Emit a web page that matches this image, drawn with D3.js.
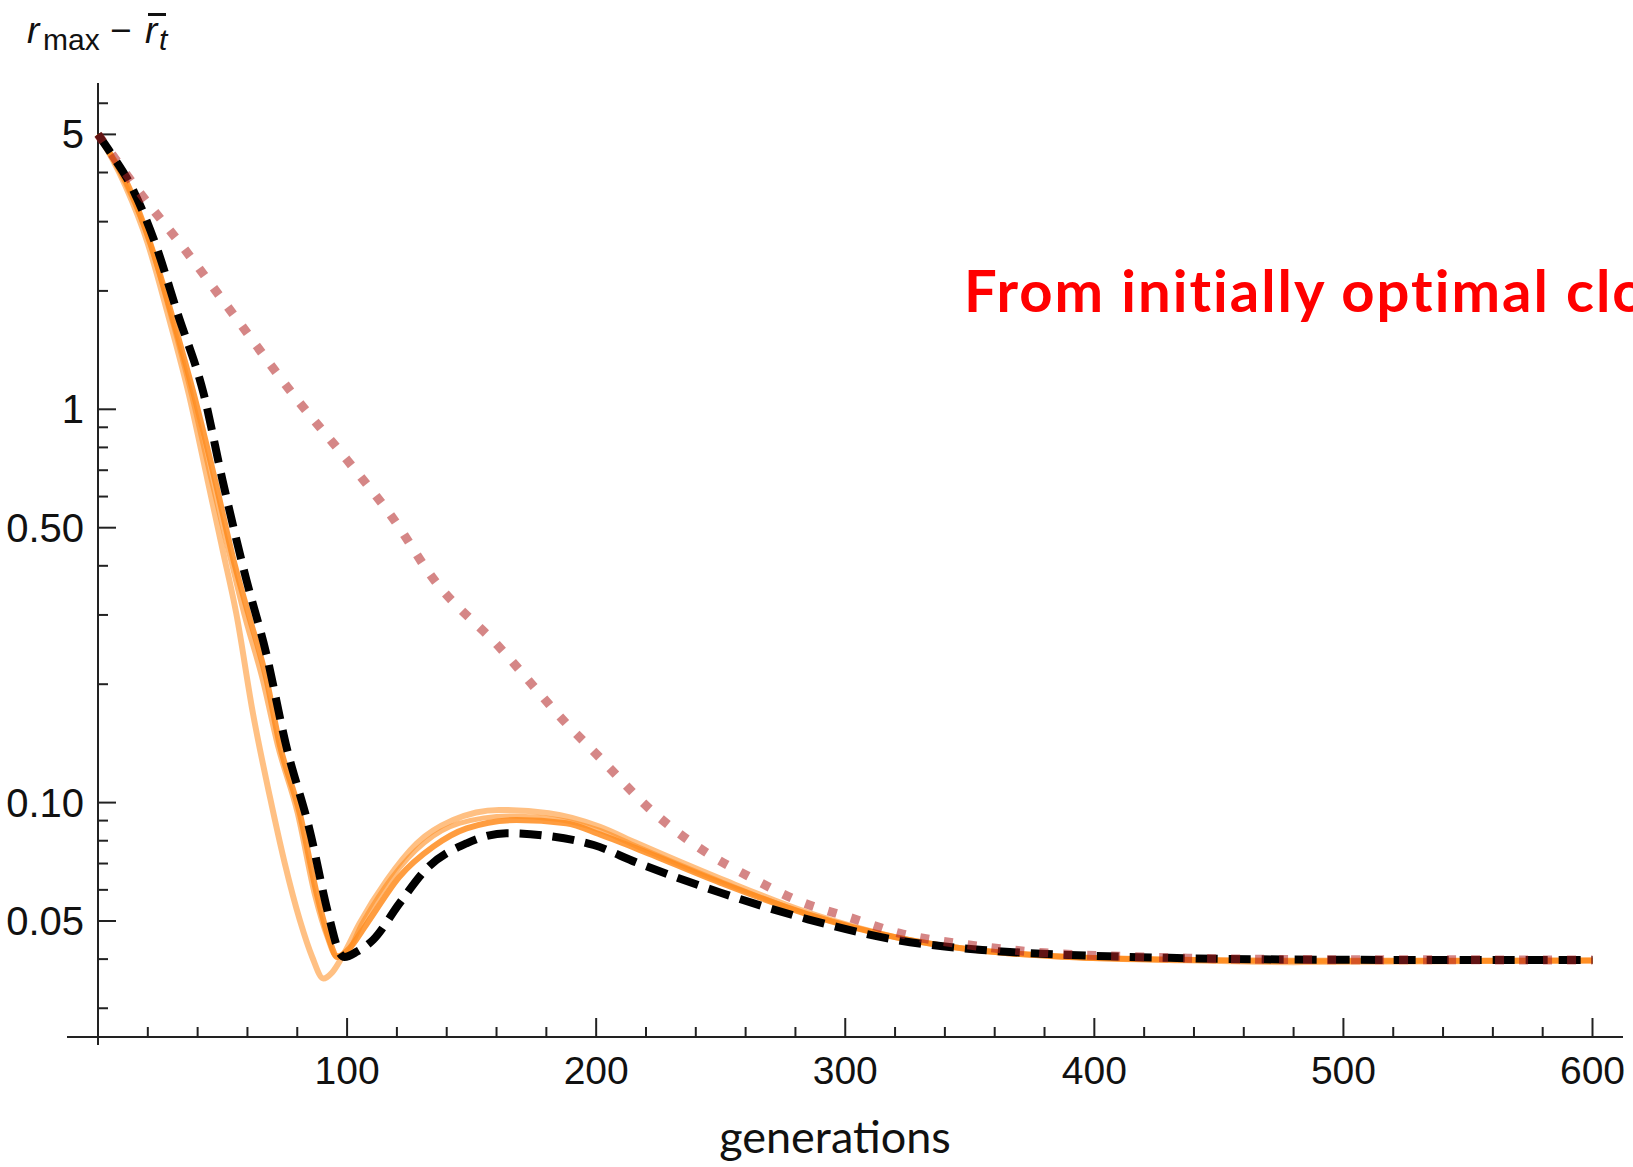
<!DOCTYPE html>
<html>
<head>
<meta charset="utf-8">
<script src="https://cdn.jsdelivr.net/npm/d3@7"></script>
<style>
  html, body { margin: 0; padding: 0; background: #fff; }
  svg { display: block; }
</style>
</head>
<body>
<svg id="chart" width="1633" height="1167"></svg>
<script>
// ---------------- DATA ----------------
// generations (x) and r_max - mean r_t (y, log scale)
const dottedSeries = [
  [0,5],[16,3.61],[34,2.59],[56,1.687],[79,1.077],[100,0.743],[118,0.533],[135,0.368],
  [161,0.249],[188,0.159],[201,0.131],[221,0.097],[241,0.077],[262,0.0645],[282,0.056],
  [302,0.051],[322,0.0465],[349,0.0435],[380,0.0415],[420,0.0405],[480,0.0399],[600,0.0398]
];
const blackDashedSeries = [
  [0,5],[6,4.4],[12,3.83],[23,2.64],[32,1.75],[42.5,1.09],[50,0.66],[59.5,0.37],[67.5,0.24],
  [75.5,0.14],[85,0.085],[92.5,0.052],[97,0.0415],[99,0.0405],[104,0.0418],[110.5,0.0448],
  [121,0.0554],[132,0.068],[148,0.0788],[164,0.0836],[181,0.0822],[199,0.078],[216,0.0705],
  [250,0.059],[285,0.0505],[320,0.0448],[355,0.0422],[390,0.041],[430,0.0403],[480,0.0399],
  [540,0.0398],[600,0.0398]
];
const orangeLightSeries = [
  [0,5],[6,4.3],[11,3.7],[20,2.64],[28,1.75],[36.5,1.09],[44,0.66],[50,0.44],[55.5,0.303],
  [62.2,0.1687],[69,0.1035],[75,0.070],[81,0.0503],[86,0.0405],[90.5,0.0357],[94,0.037],
  [98,0.0405],[105,0.0493],[116,0.0636],[128,0.0788],[142.6,0.0903],[161,0.0958],[181,0.094],
  [201.5,0.0868],[216,0.079],[250,0.064],[285,0.0525],[320,0.0455],[355,0.042],[390,0.0405],
  [430,0.0398],[480,0.0393],[540,0.0395],[600,0.0397]
];
const orangeMidSeries = [
  [0,5],[6,4.33],[11,3.76],[21,2.64],[29,1.75],[37.5,1.09],[45.5,0.66],[53,0.42],[58.5,0.303],
  [66,0.205],[72,0.14],[80,0.094],[87,0.058],[92,0.0455],[95.5,0.0408],[99,0.041],[106,0.0493],
  [118,0.0645],[131,0.079],[145,0.0885],[165,0.0925],[185,0.0905],[201.5,0.085],[216,0.0775],
  [250,0.063],[285,0.052],[320,0.0455],[355,0.042],[390,0.0405],[430,0.0399],[480,0.0395],
  [540,0.0396],[600,0.0397]
];
const orangeDarkSeries = [
  [0,5],[6,4.35],[11,3.83],[21,2.64],[29.5,1.75],[38.5,1.09],[47,0.66],[55,0.40],[60.3,0.303],
  [67.7,0.205],[73,0.14],[81,0.094],[88,0.058],[93,0.0445],[96,0.0405],[100,0.042],[108,0.0493],
  [121,0.0648],[134.6,0.0773],[148,0.086],[168,0.0903],[188,0.0886],[201.5,0.083],[216,0.0765],
  [250,0.0625],[285,0.052],[320,0.0455],[355,0.042],[390,0.0405],[430,0.0399],[480,0.0396],
  [540,0.0396],[600,0.0397]
];
const xMajorTicks = [100,200,300,400,500,600];
const xMinorTicks = [20,40,60,80,120,140,160,180,220,240,260,280,320,340,360,380,420,440,460,480,520,540,560,580];
const yMajorTicks = [5,1,0.5,0.1,0.05];
const yMajorLabels = ["5","1","0.50","0.10","0.05"];
const yMinorTicks = [6,4,3,2,0.9,0.8,0.7,0.6,0.4,0.3,0.2,0.09,0.08,0.07,0.06,0.04,0.03];
const xAxisTitle = "generations";
const annotation = "From initially optimal clone";

// ---------------- LAYOUT ----------------
const svg = d3.select("#chart");
svg.append("rect").attr("width",1633).attr("height",1167).attr("fill","#fff");

const x = d3.scaleLinear().domain([0,600]).range([98,1592.5]);
const y = d3.scaleLog().domain([0.01,10]).range([409.3 + 2*393.3, 409.3 - 393.3]);
const axisY = 1037, axisX = 98;
const axisColor = "#222";
const tickFont = "'Liberation Sans', Arial, sans-serif";

// axes lines
svg.append("line").attr("x1",67).attr("x2",1623).attr("y1",axisY).attr("y2",axisY)
  .attr("stroke",axisColor).attr("stroke-width",2);
svg.append("line").attr("x1",axisX).attr("x2",axisX).attr("y1",83).attr("y2",1045)
  .attr("stroke",axisColor).attr("stroke-width",2);

// x ticks
svg.selectAll(".xmaj").data(xMajorTicks).enter().append("line")
  .attr("x1",d=>x(d)).attr("x2",d=>x(d)).attr("y1",axisY).attr("y2",axisY-19)
  .attr("stroke",axisColor).attr("stroke-width",2);
svg.selectAll(".xmin").data(xMinorTicks).enter().append("line")
  .attr("x1",d=>x(d)).attr("x2",d=>x(d)).attr("y1",axisY).attr("y2",axisY-10)
  .attr("stroke",axisColor).attr("stroke-width",2);
svg.selectAll(".xlab").data(xMajorTicks).enter().append("text")
  .attr("x",d=>x(d)).attr("y",1084).attr("text-anchor","middle")
  .attr("font-family",tickFont).attr("font-size",39).attr("fill","#111")
  .text(d=>d);

// y ticks
svg.selectAll(".ymaj").data(yMajorTicks).enter().append("line")
  .attr("x1",axisX).attr("x2",axisX+18).attr("y1",d=>y(d)).attr("y2",d=>y(d))
  .attr("stroke",axisColor).attr("stroke-width",2);
svg.selectAll(".ymin").data(yMinorTicks).enter().append("line")
  .attr("x1",axisX).attr("x2",axisX+10).attr("y1",d=>y(d)).attr("y2",d=>y(d))
  .attr("stroke",axisColor).attr("stroke-width",2);
svg.selectAll(".ylab").data(yMajorTicks).enter().append("text")
  .attr("x",84).attr("y",d=>y(d)+14).attr("text-anchor","end")
  .attr("font-family",tickFont).attr("font-size",40).attr("fill","#111")
  .text((d,i)=>yMajorLabels[i]);

// ---------------- CURVES ----------------
const line = d3.line().x(d=>x(d[0])).y(d=>y(d[1])).curve(d3.curveMonotoneX);
const orange = "#ff8c1e";
svg.append("path").datum(orangeLightSeries).attr("d",line)
  .attr("fill","none").attr("stroke",orange).attr("stroke-opacity",0.55).attr("stroke-width",6);
svg.append("path").datum(orangeMidSeries).attr("d",line)
  .attr("fill","none").attr("stroke",orange).attr("stroke-opacity",0.6).attr("stroke-width",5);
svg.append("path").datum(orangeDarkSeries).attr("d",line)
  .attr("fill","none").attr("stroke",orange).attr("stroke-opacity",0.85).attr("stroke-width",6);
svg.append("path").datum(blackDashedSeries).attr("d",line)
  .attr("fill","none").attr("stroke","#000").attr("stroke-width",8)
  .attr("stroke-dasharray","22,11");
svg.append("path").datum(dottedSeries).attr("d",line)
  .attr("fill","none").attr("stroke","#b22222").attr("stroke-opacity",0.55).attr("stroke-width",9)
  .attr("stroke-dasharray","9,15");

// ---------------- TEXTS ----------------
const titleFont = "'Liberation Sans', Arial, sans-serif";
const yt = svg.append("g").attr("font-family",titleFont).attr("fill","#111");
yt.append("text").attr("x",27).attr("y",43).attr("font-size",37).attr("font-style","italic").text("r");
yt.append("text").attr("x",43).attr("y",50).attr("font-size",30).text("max");
yt.append("text").attr("x",110).attr("y",43).attr("font-size",37).text("−");
yt.append("text").attr("x",145).attr("y",43).attr("font-size",37).attr("font-style","italic").text("r");
yt.append("line").attr("x1",148).attr("x2",166).attr("y1",14.5).attr("y2",14.5)
  .attr("stroke","#111").attr("stroke-width",3);
yt.append("text").attr("x",159).attr("y",50).attr("font-size",30).attr("font-style","italic").text("t");

svg.append("text").attr("x",835).attr("y",1153).attr("text-anchor","middle")
  .attr("font-family","Lato, 'Open Sans', sans-serif").attr("font-size",45).attr("fill","#111")
  .text(xAxisTitle);

svg.append("text").attr("x",964).attr("y",312)
  .attr("font-family","Lato, 'Open Sans', sans-serif").attr("font-weight","bold")
  .attr("font-size",58).attr("letter-spacing",2).attr("fill","#ff0000")
  .text(annotation);
</script>
</body>
</html>
